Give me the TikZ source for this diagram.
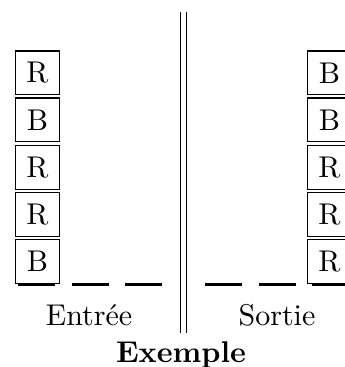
\documentclass[tikz,border=0pt]{standalone}
\begin{document}
\begin{tikzpicture}[x=0.3333pt,y=-0.3333pt,
  ball/.style={draw,line width=0.4pt,minimum width=14.8pt,minimum height=14.6pt,inner sep=0pt},
  floor/.style={line width=1.1pt,dash pattern=on 12.4pt off 5.5pt},
  lbl/.style={anchor=base,inner sep=0pt}]
\useasboundingbox (0,0) rectangle (344,367);
% left column (Entrée)
\node[ball] (l1) at (37.5,73) {R};
\node[ball] (l2) at (37.5,120) {B};
\node[ball] (l3) at (37.5,167.5) {R};
\node[ball] (l4) at (37.5,214.5) {R};
\node[ball] (l5) at (37.5,261.5) {B};
% right column (Sortie)
\node[ball] (r1) at (329.5,73) {B};
\node[ball] (r2) at (329.5,120) {B};
\node[ball] (r3) at (329.5,167.5) {R};
\node[ball] (r4) at (329.5,214.5) {R};
\node[ball] (r5) at (329.5,261.5) {R};
% floors
\coordinate (la) at (18,284.5);
\coordinate (lb) at (162,284.5);
\coordinate (ra) at (205,284.5);
\coordinate (rb) at (349,284.5);
\draw[floor] (la) -- (lb);
\draw[floor] (ra) -- (rb);
% separator
\coordinate (s1a) at (180.5,12);
\coordinate (s1b) at (180.5,333);
\coordinate (s2a) at (186.5,12);
\coordinate (s2b) at (186.5,333);
\draw[line width=0.4pt] (s1a) -- (s1b);
\draw[line width=0.4pt] (s2a) -- (s2b);
% labels
\node[lbl] (entree) at (89,325) {Entrée};
\node[lbl] (sortie) at (277,325) {Sortie};
\node[lbl] (ex) at (181,362) {\textbf{Exemple}};
\end{tikzpicture}
\end{document}
